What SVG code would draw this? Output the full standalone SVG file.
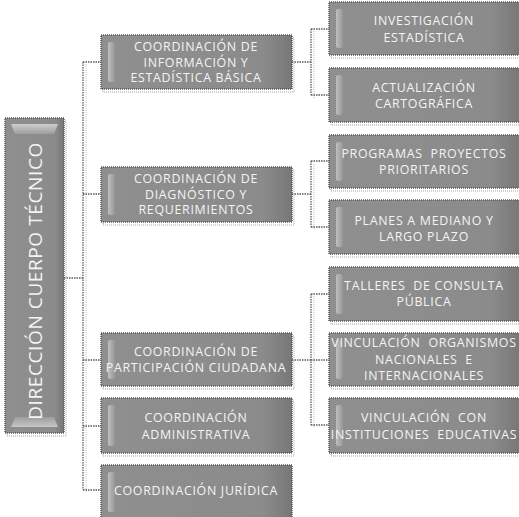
<svg xmlns="http://www.w3.org/2000/svg" width="519" height="517" viewBox="0 0 519 517">
<defs>
<linearGradient id="gr" x1="0" y1="0" x2="1" y2="0"><stop offset="0" stop-color="#8f8f8f"/><stop offset="0.85" stop-color="#8b8b8b"/><stop offset="1" stop-color="#777"/></linearGradient>
<linearGradient id="hl" x1="0" y1="0" x2="1" y2="0"><stop offset="0" stop-color="#cfcfcf"/><stop offset="1" stop-color="#999"/></linearGradient>
<linearGradient id="hlv" x1="0" y1="0" x2="0" y2="1"><stop offset="0" stop-color="#dadada"/><stop offset="1" stop-color="#a0a0a0"/></linearGradient>
<linearGradient id="hlb" x1="0" y1="0" x2="0" y2="1"><stop offset="0" stop-color="#a0a0a0"/><stop offset="1" stop-color="#d0d0d0"/></linearGradient>
</defs>
<style>
.box{fill:url(#gr);stroke:#555;stroke-width:1.5;stroke-dasharray:1 1}
.sh{fill:none;stroke:#c4c4c4;stroke-width:1.5;stroke-dasharray:1 1}
.bev{fill:url(#hl);opacity:0.75}
.t{font-family:"Open Sans","DejaVu Sans",sans-serif;font-size:12.4px;fill:#f4f4f4;text-anchor:middle;dominant-baseline:central;letter-spacing:0.7px;white-space:pre}
.rt{font-family:"Open Sans","DejaVu Sans",sans-serif;font-size:19px;fill:#f4f4f4;text-anchor:middle;dominant-baseline:central;letter-spacing:0.6px}
.c{fill:none;stroke:#5a5a5a;stroke-width:1.3;stroke-dasharray:1.5 1}
.cs{fill:none;stroke:#d2d2d2;stroke-width:1.5;stroke-dasharray:1 1}
</style>
<g id="connectors">
<path class="cs" d="M86 64V492M314 31V99M314 164V229M314 296V427"/>
<path class="c" d="M64 278H83M83 62V490M83 62H101M83 194H101M83 360H101M83 426H101M83 490H101"/>
<path class="c" d="M292 62H311M311 29V95M311 29H329M311 95H329"/>
<path class="c" d="M292 194H311M311 161V227M311 161H329M311 227H329"/>
<path class="c" d="M292 360H311M311 294V425M311 294H329M311 360H329M311 425H329"/>
</g>
<g id="root">
<rect class="sh" x="7" y="121" width="59" height="315"/>
<rect class="box" x="5" y="118" width="59" height="315"/>
<path d="M11 124H58L54 134H15Z" fill="url(#hlv)" opacity="0.85"/>
<path d="M15 417H54L58 427H11Z" fill="url(#hlb)" opacity="0.85"/>
<text class="rt" transform="translate(34.5,281) rotate(-90)">DIRECCIÓN CUERPO TÉCNICO</text>
</g>
<g id="n1">
<rect class="sh" x="103" y="38" width="191" height="54"/>
<rect class="box" x="101" y="35" width="191" height="54"/>
<rect class="bev" x="108" y="42" width="7" height="40" rx="2"/>
<text class="t" x="196" y="46.5">COORDINACIÓN DE</text>
<text class="t" x="196" y="62">INFORMACIÓN Y</text>
<text class="t" x="196" y="77.5">ESTADÍSTICA BÁSICA</text>
</g>
<g id="n2">
<rect class="sh" x="103" y="170" width="191" height="55"/>
<rect class="box" x="101" y="167" width="191" height="55"/>
<rect class="bev" x="108" y="174" width="7" height="41" rx="2"/>
<text class="t" x="196" y="178.5">COORDINACIÓN DE</text>
<text class="t" x="196" y="194">DIAGNÓSTICO Y</text>
<text class="t" x="196" y="209.5">REQUERIMIENTOS</text>
</g>
<g id="n3">
<rect class="sh" x="103" y="336" width="191" height="53"/>
<rect class="box" x="101" y="333" width="191" height="53"/>
<rect class="bev" x="108" y="340" width="7" height="39" rx="2"/>
<text class="t" x="196" y="351">COORDINACIÓN DE</text>
<text class="t" x="196" y="367">PARTICIPACIÓN CIUDADANA</text>
</g>
<g id="n4">
<rect class="sh" x="103" y="401" width="191" height="55"/>
<rect class="box" x="101" y="398" width="191" height="55"/>
<rect class="bev" x="108" y="405" width="7" height="41" rx="2"/>
<text class="t" x="196" y="417">COORDINACIÓN</text>
<text class="t" x="196" y="434">ADMINISTRATIVA</text>
</g>
<g id="n5">
<rect class="box" x="101" y="465" width="191" height="54"/>
<rect class="bev" x="108" y="472" width="7" height="40" rx="2"/>
<text class="t" x="196" y="490">COORDINACIÓN JURÍDICA</text>
</g>
<g id="n6">
<rect class="sh" x="331" y="5" width="190" height="53"/>
<rect class="box" x="329" y="2" width="191" height="53"/>
<rect class="bev" x="336" y="9" width="7" height="39" rx="2"/>
<text class="t" x="424" y="20">INVESTIGACIÓN</text>
<text class="t" x="424" y="37">ESTADÍSTICA</text>
</g>
<g id="n7">
<rect class="sh" x="331" y="71" width="190" height="54"/>
<rect class="box" x="329" y="68" width="191" height="54"/>
<rect class="bev" x="336" y="75" width="7" height="40" rx="2"/>
<text class="t" x="424" y="87">ACTUALIZACIÓN</text>
<text class="t" x="424" y="103">CARTOGRÁFICA</text>
</g>
<g id="n8">
<rect class="sh" x="331" y="138" width="190" height="53"/>
<rect class="box" x="329" y="135" width="191" height="53"/>
<rect class="bev" x="336" y="142" width="7" height="39" rx="2"/>
<text class="t" x="424" y="153">PROGRAMAS  PROYECTOS</text>
<text class="t" x="424" y="169">PRIORITARIOS</text>
</g>
<g id="n9">
<rect class="sh" x="331" y="203" width="190" height="54"/>
<rect class="box" x="329" y="200" width="191" height="54"/>
<rect class="bev" x="336" y="207" width="7" height="40" rx="2"/>
<text class="t" x="424" y="220">PLANES A MEDIANO Y</text>
<text class="t" x="424" y="236">LARGO PLAZO</text>
</g>
<g id="n10">
<rect class="sh" x="331" y="270" width="190" height="54"/>
<rect class="box" x="329" y="267" width="191" height="54"/>
<rect class="bev" x="336" y="274" width="7" height="40" rx="2"/>
<text class="t" x="424" y="285">TALLERES  DE CONSULTA</text>
<text class="t" x="424" y="301">PÚBLICA</text>
</g>
<g id="n11">
<rect class="sh" x="331" y="336" width="190" height="53"/>
<rect class="box" x="329" y="333" width="191" height="53"/>
<rect class="bev" x="336" y="340" width="7" height="39" rx="2"/>
<text class="t" x="424" y="342.5">VINCULACIÓN  ORGANISMOS</text>
<text class="t" x="424" y="359">NACIONALES  E</text>
<text class="t" x="424" y="375.5">INTERNACIONALES</text>
</g>
<g id="n12">
<rect class="sh" x="331" y="401" width="190" height="55"/>
<rect class="box" x="329" y="398" width="191" height="55"/>
<rect class="bev" x="336" y="405" width="7" height="41" rx="2"/>
<text class="t" x="424" y="417">VINCULACIÓN  CON</text>
<text class="t" x="424" y="434">INSTITUCIONES  EDUCATIVAS</text>
</g>
</svg>
